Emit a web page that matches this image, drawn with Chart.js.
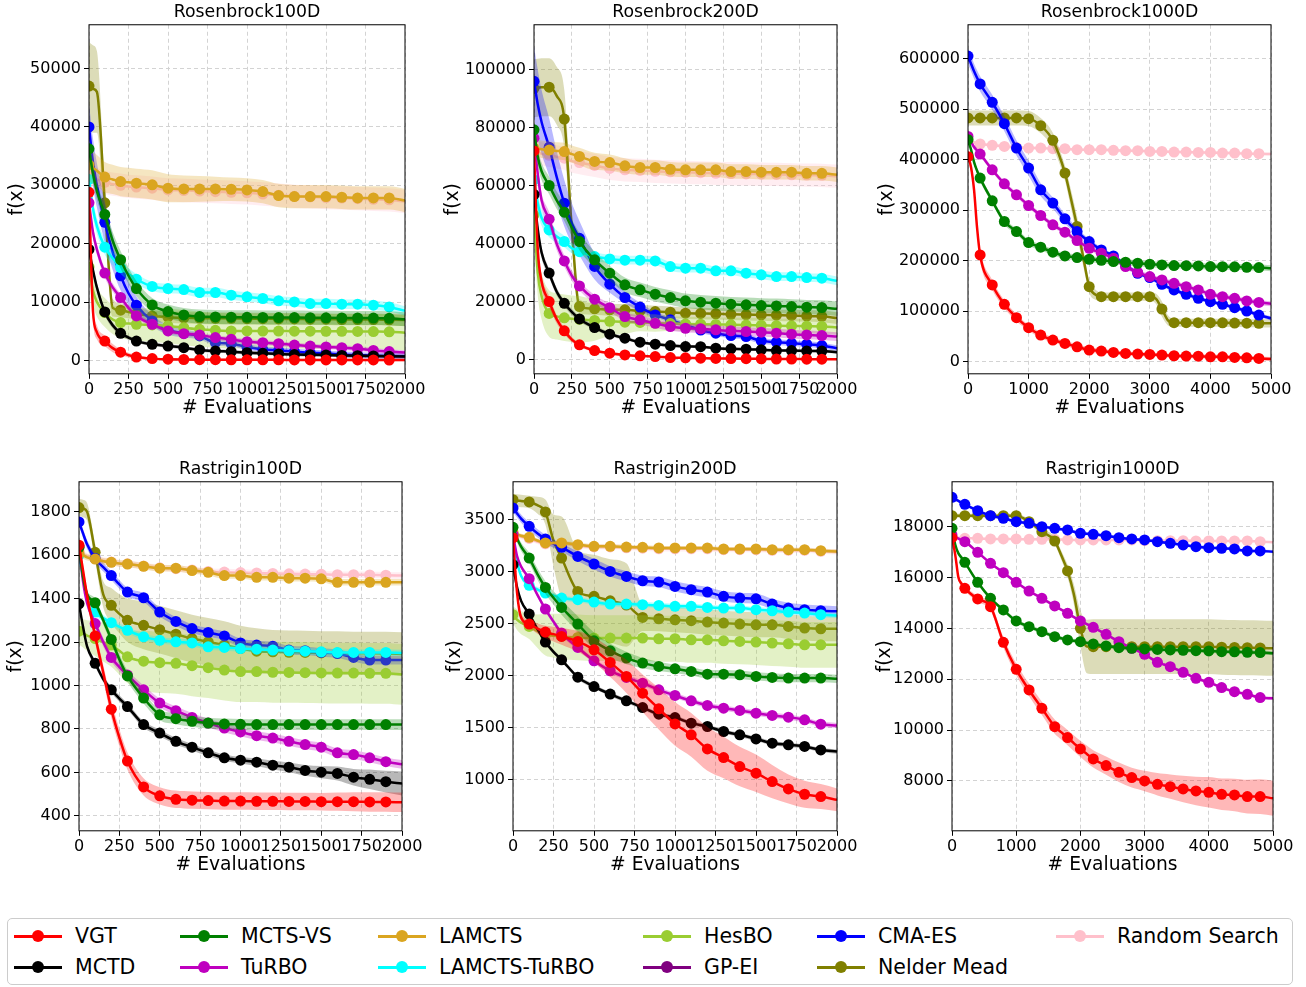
<!DOCTYPE html>
<html>
<head>
<meta charset="utf-8">
<script src="https://cdn.jsdelivr.net/npm/chart.js@4.4.1/dist/chart.umd.min.js"></script>
<style>
body { margin: 0; background: #fff; width: 1306px; height: 987px; position: relative; overflow: hidden; font-family: "DejaVu Sans", sans-serif; }
.panel { position: absolute; }
#legend { position: absolute; left: 7px; top: 918px; width: 1284px; height: 65px; border: 1px solid #cccccc; border-radius: 5px; }
.item { position: absolute; height: 26px; font-size: 20.5px; line-height: 26px; white-space: nowrap; color: #000; }
.item .ln { position: absolute; left: 0; top: 11.5px; width: 48px; height: 3px; }
.item .dot { position: absolute; left: 18px; top: 7px; width: 12px; height: 12px; border-radius: 50%; }
.item .tx { position: absolute; left: 61px; top: 0; }
</style>
</head>
<body>
<div id="legend"></div>
<script>
// methods, in legend order
const names = ['VGT', 'MCTD', 'MCTS-VS', 'TuRBO', 'LAMCTS', 'LAMCTS-TuRBO', 'HesBO', 'GP-EI', 'CMA-ES', 'Nelder Mead', 'Random Search'];
const keys = ['vgt', 'mctd', 'mctsvs', 'turbo', 'lamcts', 'lamctsturbo', 'hesbo', 'gpei', 'cmaes', 'nm', 'rs'];
const colors = ['#ff0000', '#000000', '#008000', '#bf00bf', '#daa520', '#00ffff', '#9acd32', '#800080', '#0000ff', '#808000', '#ffc0cb'];

// evaluation grids
const xs2000 = [0, 25, 50, 100, 150, 200, 250, 300, 400, 500, 600, 700, 800, 900, 1000, 1100, 1200, 1300, 1400, 1500, 1600, 1700, 1800, 1900, 2000];
const xs5000 = [0, 50, 100, 150, 200, 400, 600, 800, 1000, 1200, 1400, 1600, 1700, 1800, 1900, 2000, 2100, 2200, 2400, 2600, 2800, 3000, 3100, 3200, 3300, 3400, 3600, 3800, 4000, 4200, 4400, 4600, 4800, 5000];

// tick labels
const xTicks2000 = [0, 250, 500, 750, 1000, 1250, 1500, 1750, 2000];
const xTicks5000 = [0, 1000, 2000, 3000, 4000, 5000];
const yTicksRos100 = [0, 10000, 20000, 30000, 40000, 50000];
const yTicksRos200 = [0, 20000, 40000, 60000, 80000, 100000];
const yTicksRos1000 = [0, 100000, 200000, 300000, 400000, 500000, 600000];
const yTicksRas100 = [400, 600, 800, 1000, 1200, 1400, 1600, 1800];
const yTicksRas200 = [1000, 1500, 2000, 2500, 3000, 3500];
const yTicksRas1000 = [8000, 10000, 12000, 14000, 16000, 18000];

// ---- Rosenbrock100D ----
const ros100_vgt = [28800, 8500, 4800, 3300, 2100, 1400, 900, 570, 300, 200, 150, 120, 110, 100, 100, 90, 90, 80, 80, 80, 70, 70, 70, 60, 60];
const ros100_vgt_sd = [1500, 1500, 1200, 900, 700, 500, 400, 300, 200, 200, 200, 200, 200, 200, 200, 200, 200, 200, 200, 200, 200, 200, 200, 200, 200];
const ros100_mctd = [19000, 15500, 12500, 8300, 6000, 4640, 3900, 3300, 2750, 2460, 2180, 1780, 1600, 1490, 1320, 1200, 1100, 1000, 950, 900, 850, 800, 750, 700, 650];
const ros100_mctd_sd = [800, 800, 700, 600, 500, 400, 350, 300, 300, 300, 300, 300, 300, 300, 300, 300, 300, 300, 300, 300, 300, 300, 300, 300, 300];
const ros100_mctsvs = [36250, 32000, 29000, 25000, 20500, 17240, 14500, 12300, 9500, 8360, 7790, 7500, 7450, 7400, 7380, 7360, 7340, 7330, 7320, 7300, 7280, 7260, 7240, 7200, 7050];
const ros100_mctsvs_sd = [1500, 1500, 1500, 1500, 1500, 1500, 1400, 1300, 1200, 1200, 1200, 1200, 1200, 1200, 1200, 1200, 1200, 1200, 1200, 1200, 1200, 1200, 1200, 1200, 1200];
const ros100_turbo = [27000, 22000, 19000, 14950, 12500, 10770, 9000, 7620, 6190, 5040, 4580, 4350, 3900, 3600, 3200, 3030, 2860, 2630, 2460, 2290, 2180, 2000, 1700, 1500, 1350];
const ros100_turbo_sd = [1000, 1000, 900, 800, 700, 600, 500, 500, 400, 400, 400, 400, 400, 400, 400, 400, 400, 400, 400, 400, 400, 400, 400, 400, 400];
const ros100_lamcts = [33500, 33000, 32500, 31400, 31000, 30640, 30500, 30350, 30070, 29500, 29380, 29380, 29380, 29320, 29210, 28920, 28240, 28060, 28060, 28060, 27950, 27830, 27830, 27830, 27380];
const ros100_lamcts_sd = [2800, 2800, 2700, 2600, 2500, 2500, 2500, 2500, 2500, 2400, 2300, 2200, 2100, 2000, 2000, 2000, 2000, 2000, 2000, 2000, 2000, 2000, 2000, 2000, 2000];
const ros100_lamctsturbo = [31000, 26000, 23000, 19400, 17500, 15900, 14800, 13900, 12660, 12300, 12140, 11630, 11630, 11170, 10880, 10600, 10200, 10020, 9740, 9740, 9620, 9620, 9450, 9160, 8480];
const ros100_lamctsturbo_sd = [1500, 1500, 1400, 1300, 1200, 1100, 1000, 900, 800, 800, 800, 800, 800, 800, 800, 800, 800, 800, 800, 800, 800, 800, 800, 800, 800];
const ros100_hesbo = [16000, 12000, 10000, 8200, 7000, 6470, 6300, 6190, 6070, 5900, 5610, 5330, 5150, 5040, 5040, 5030, 5020, 5010, 5000, 4990, 4980, 4960, 4940, 4900, 4750];
const ros100_hesbo_sd = [2500, 2500, 2500, 2500, 2500, 2600, 2700, 2800, 2900, 3000, 3000, 3000, 3000, 3000, 3000, 3000, 3000, 3000, 3000, 3000, 3000, 3000, 3000, 3000, 3000];
const ros100_cmaes = [40000, 34000, 30000, 23650, 18500, 14500, 11500, 9450, 6760, 5210, 4640, 4180, 3040, 2860, 2300, 1900, 1700, 1500, 1300, 1200, 1000, 900, 800, 750, 700];
const ros100_cmaes_sd = [4000, 4000, 3800, 3500, 3000, 2500, 2000, 1500, 1000, 800, 700, 600, 500, 500, 500, 500, 500, 500, 500, 500, 500, 500, 500, 500, 500];
const ros100_nm = [47000, 46500, 46000, 27000, 9000, 8600, 8300, 8000, 7600, 7400, 7300, 7250, 7200, 7200, 7150, 7150, 7100, 7100, 7050, 7050, 7000, 7000, 7000, 6950, 6900];
const ros100_nm_sd = [7500, 7500, 7000, 4000, 1500, 1200, 1100, 1000, 1000, 1000, 1000, 1000, 1000, 1000, 1000, 1000, 1000, 1000, 1000, 1000, 1000, 1000, 1000, 1000, 1000];
const ros100_rs = [32000, 31500, 31000, 30500, 30200, 30000, 29800, 29700, 29500, 29200, 29100, 29000, 28900, 28800, 28700, 28500, 28300, 28100, 28000, 27900, 27800, 27700, 27600, 27500, 27200];
const ros100_rs_sd = [2000, 2000, 2000, 2000, 2000, 2000, 2000, 2000, 2000, 2000, 2000, 2000, 2000, 2000, 2000, 2000, 2000, 2000, 2000, 2000, 2000, 2000, 2000, 2000, 2000];

// ---- Rosenbrock200D ----
const ros200_vgt = [72000, 38000, 27000, 20100, 14000, 10000, 7000, 5170, 3220, 2300, 1720, 1380, 1150, 800, 700, 600, 500, 450, 400, 350, 300, 280, 250, 230, 200];
const ros200_vgt_sd = [3000, 3000, 2500, 2000, 1500, 1200, 900, 700, 500, 300, 300, 300, 300, 300, 300, 300, 300, 300, 300, 300, 300, 300, 300, 300, 300];
const ros200_mctd = [57000, 45000, 37000, 29900, 23500, 19500, 16500, 14100, 11150, 8850, 7470, 6090, 5400, 4940, 4600, 4550, 4020, 3800, 3700, 3450, 3220, 3200, 3100, 3050, 2600];
const ros200_mctd_sd = [2000, 2000, 1800, 1500, 1300, 1100, 1000, 900, 800, 700, 600, 500, 500, 500, 500, 500, 500, 500, 500, 500, 500, 500, 500, 500, 500];
const ros200_mctsvs = [79300, 70000, 65000, 60100, 55000, 50900, 45500, 40800, 34470, 29870, 25850, 24130, 22630, 21490, 20340, 19880, 19530, 19190, 18960, 18730, 18610, 18380, 18150, 18040, 17580];
const ros200_mctsvs_sd = [3000, 3000, 3000, 3000, 3000, 3000, 3000, 3000, 2800, 2600, 2500, 2500, 2500, 2500, 2500, 2500, 2500, 2500, 2500, 2500, 2500, 2500, 2500, 2500, 2500];
const ros200_turbo = [76400, 64000, 55000, 48500, 40000, 34100, 29000, 25500, 20900, 18000, 14940, 13800, 12600, 11500, 10900, 10700, 10340, 10000, 9770, 9540, 9200, 8850, 8600, 8390, 8040];
const ros200_turbo_sd = [2500, 2500, 2500, 2500, 2200, 2000, 1800, 1600, 1500, 1500, 1500, 1500, 1500, 1500, 1500, 1500, 1500, 1500, 1500, 1500, 1500, 1500, 1500, 1500, 1500];
const ros200_lamcts = [73000, 72800, 72600, 72300, 72000, 71800, 70900, 70100, 68400, 68000, 66900, 66300, 66300, 65700, 65500, 65500, 65500, 64900, 64900, 64700, 64700, 64700, 64300, 64300, 63800];
const ros200_lamcts_sd = [3000, 3000, 3000, 3000, 3000, 3000, 3000, 3000, 3000, 2800, 2600, 2500, 2500, 2500, 2500, 2500, 2500, 2500, 2500, 2500, 2500, 2500, 2500, 2500, 2500];
const ros200_lamctsturbo = [62000, 54000, 49000, 44800, 42500, 40800, 38500, 37300, 35600, 34800, 34350, 34350, 34100, 32170, 31600, 31600, 30680, 30680, 29870, 29300, 28700, 28700, 28380, 28150, 27230];
const ros200_lamctsturbo_sd = [3000, 3000, 2800, 2500, 2200, 2000, 1800, 1600, 1500, 1500, 1500, 1500, 1500, 1500, 1500, 1500, 1500, 1500, 1500, 1500, 1500, 1500, 1500, 1500, 1500];
const ros200_hesbo = [50000, 30000, 22000, 16000, 15000, 14500, 14200, 14000, 13600, 13300, 13000, 12900, 12700, 12500, 12400, 12300, 12200, 12100, 12000, 11900, 11800, 11700, 11600, 11500, 11200];
const ros200_hesbo_sd = [8000, 8000, 8000, 8000, 8000, 8000, 8000, 8000, 7000, 5000, 4000, 3000, 3000, 2500, 2500, 2500, 2500, 2500, 2500, 2500, 2500, 2500, 2500, 2500, 2500];
const ros200_cmaes = [96000, 88000, 82000, 73300, 63000, 54000, 47000, 41900, 32200, 26100, 21500, 18200, 15500, 13800, 12070, 10300, 9190, 8390, 8040, 6550, 6090, 5750, 5400, 4940, 4000];
const ros200_cmaes_sd = [12000, 12000, 11000, 10000, 9000, 8000, 7000, 6000, 4500, 3000, 2000, 1500, 1000, 1000, 1000, 1000, 1000, 1000, 1000, 1000, 1000, 1000, 1000, 1000, 1000];
const ros200_nm = [93600, 93800, 94000, 94000, 91000, 83000, 45000, 18400, 17580, 17240, 17240, 16890, 16660, 16430, 16090, 16000, 15900, 15700, 15600, 15500, 15400, 15300, 15100, 15000, 14400];
const ros200_nm_sd = [10000, 10000, 10000, 10000, 10000, 10000, 6000, 2500, 2000, 2000, 2000, 2000, 2000, 2000, 2000, 2000, 2000, 2000, 2000, 2000, 2000, 2000, 2000, 2000, 2000];
const ros200_rs = [72000, 71500, 71000, 70500, 70000, 69500, 68500, 68000, 67000, 66000, 65500, 65300, 65000, 64800, 64600, 64500, 64300, 64200, 64100, 64000, 63900, 63800, 63700, 63600, 63300];
const ros200_rs_sd = [4000, 4000, 4000, 4000, 4000, 4000, 4000, 4000, 4000, 4000, 4000, 4000, 4000, 4000, 4000, 4000, 4000, 4000, 4000, 4000, 4000, 4000, 4000, 4000, 4000];

// ---- Rosenbrock1000D ----
const ros1000_vgt = [406000, 385000, 340000, 265000, 211500, 152000, 113700, 87300, 67400, 52900, 43000, 36400, 33000, 29700, 26200, 23100, 22100, 21200, 18500, 16500, 15200, 14500, 13800, 13200, 12500, 11900, 11200, 11000, 9900, 9700, 8600, 7900, 6600, 5300];
const ros1000_vgt_sd = [8000, 10000, 12000, 12000, 12000, 10000, 8000, 7000, 6000, 6000, 5000, 5000, 5000, 5000, 5000, 5000, 5000, 5000, 4000, 4000, 4000, 4000, 4000, 4000, 4000, 4000, 4000, 4000, 4000, 4000, 4000, 4000, 4000, 4000];
const ros1000_mctsvs = [439500, 420000, 395000, 378000, 363500, 318600, 277600, 257800, 236000, 226700, 216800, 209500, 207800, 206200, 204500, 202900, 201900, 200900, 198300, 197000, 195000, 193000, 192300, 191700, 191000, 190400, 190200, 189700, 188400, 188200, 188000, 187100, 186400, 185100];
const ros1000_mctsvs_sd = [6000, 6000, 6000, 6000, 6000, 6000, 6000, 6000, 6000, 6000, 6000, 6000, 6000, 6000, 6000, 6000, 6000, 6000, 6000, 6000, 6000, 6000, 6000, 6000, 6000, 6000, 6000, 6000, 6000, 6000, 6000, 6000, 6000, 6000];
const ros1000_turbo = [446000, 435000, 425000, 418000, 411100, 380000, 352300, 330500, 309300, 289500, 271000, 256500, 248000, 240000, 232000, 224700, 219500, 214800, 204900, 188400, 177100, 168600, 165000, 162000, 158500, 155300, 148700, 142100, 133500, 128900, 125600, 120500, 117500, 115000];
const ros1000_turbo_sd = [5000, 5000, 5000, 5000, 5000, 5000, 5000, 5000, 5000, 5000, 5000, 5000, 5000, 5000, 5000, 5000, 5000, 5000, 5000, 5000, 5000, 5000, 5000, 5000, 5000, 5000, 5000, 5000, 5000, 5000, 5000, 5000, 5000, 5000];
const ros1000_cmaes = [605000, 590000, 575000, 562000, 549900, 513600, 471300, 423000, 383400, 340400, 314000, 282900, 270000, 257800, 247000, 238000, 229000, 221400, 209500, 191700, 175200, 166600, 160000, 153400, 147500, 142100, 133500, 125600, 119000, 113700, 107100, 100500, 92500, 85900];
const ros1000_cmaes_sd = [15000, 15000, 15000, 15000, 15000, 15000, 15000, 15000, 15000, 13000, 11000, 9000, 8000, 7000, 6000, 5000, 5000, 5000, 4000, 4000, 4000, 4000, 4000, 4000, 4000, 4000, 4000, 4000, 4000, 4000, 4000, 4000, 4000, 4000];
const ros1000_nm = [482500, 482500, 482500, 482500, 482500, 482500, 482500, 482500, 481200, 467300, 438200, 373500, 322000, 267700, 208000, 148700, 133000, 128900, 128900, 128900, 128900, 128900, 125000, 104400, 82000, 77300, 77300, 77300, 77300, 77000, 76700, 76400, 76000, 76000];
const ros1000_nm_sd = [15000, 15000, 15000, 15000, 15000, 15000, 15000, 15000, 15000, 15000, 15000, 15000, 18000, 20000, 18000, 12000, 10000, 8000, 8000, 8000, 8000, 8000, 10000, 15000, 10000, 8000, 8000, 8000, 8000, 8000, 8000, 8000, 8000, 8000];
const ros1000_rs = [440000, 436000, 434000, 432500, 431000, 428300, 426300, 424300, 423000, 423000, 421700, 421700, 420700, 419700, 419700, 419700, 419700, 419700, 418400, 417800, 417800, 416400, 416400, 416400, 415700, 415100, 415100, 414400, 414400, 413100, 413100, 411800, 411800, 411100];
const ros1000_rs_sd = [3000, 3000, 3000, 3000, 3000, 3000, 3000, 3000, 3000, 3000, 3000, 3000, 3000, 3000, 3000, 3000, 3000, 3000, 3000, 3000, 3000, 3000, 3000, 3000, 3000, 3000, 3000, 3000, 3000, 3000, 3000, 3000, 3000, 3000];

// ---- Rastrigin100D ----
const ras100_vgt = [1646, 1530, 1414, 1228, 1060, 891, 760, 652, 533, 492, 476, 472, 470, 468, 468, 467, 467, 466, 466, 465, 465, 465, 464, 464, 462];
const ras100_vgt_sd = [30, 30, 30, 30, 35, 40, 40, 40, 40, 40, 40, 40, 40, 40, 40, 40, 40, 40, 40, 40, 42, 44, 45, 45, 45];
const ras100_mctd = [1376, 1270, 1180, 1102, 1030, 980, 940, 903, 820, 781, 743, 716, 690, 667, 656, 647, 633, 624, 609, 601, 595, 578, 568, 557, 549];
const ras100_mctd_sd = [15, 15, 15, 15, 15, 15, 15, 15, 15, 15, 15, 15, 15, 15, 15, 18, 20, 22, 25, 28, 32, 38, 45, 50, 55];
const ras100_mctsvs = [1636, 1500, 1420, 1381, 1300, 1212, 1120, 1044, 942, 865, 847, 835, 827, 823, 821, 820, 820, 820, 820, 820, 820, 820, 820, 820, 820];
const ras100_mctsvs_sd = [20, 20, 20, 20, 20, 22, 24, 25, 25, 25, 25, 25, 25, 25, 25, 25, 25, 25, 25, 25, 25, 25, 25, 25, 25];
const ras100_turbo = [1640, 1480, 1380, 1285, 1200, 1129, 1085, 1048, 980, 919, 884, 853, 827, 804, 786, 769, 758, 743, 728, 716, 690, 682, 667, 649, 637];
const ras100_turbo_sd = [20, 20, 20, 20, 20, 20, 20, 20, 20, 20, 20, 20, 20, 20, 20, 20, 20, 20, 20, 20, 20, 20, 20, 20, 20];
const ras100_lamcts = [1610, 1600, 1590, 1582, 1572, 1567, 1562, 1559, 1549, 1540, 1540, 1529, 1521, 1506, 1506, 1498, 1498, 1494, 1494, 1491, 1475, 1475, 1475, 1475, 1475];
const ras100_lamcts_sd = [15, 15, 15, 15, 15, 15, 15, 15, 15, 15, 15, 15, 15, 15, 15, 15, 15, 15, 15, 15, 15, 15, 15, 15, 15];
const ras100_lamctsturbo = [1600, 1500, 1420, 1338, 1310, 1289, 1270, 1254, 1224, 1208, 1201, 1196, 1178, 1175, 1170, 1167, 1163, 1160, 1158, 1155, 1152, 1152, 1152, 1152, 1150];
const ras100_lamctsturbo_sd = [15, 15, 15, 15, 15, 15, 15, 15, 15, 15, 15, 15, 15, 15, 15, 15, 15, 15, 15, 15, 15, 15, 15, 15, 15];
const ras100_hesbo = [1250, 1240, 1230, 1216, 1200, 1186, 1160, 1132, 1112, 1105, 1102, 1091, 1082, 1071, 1064, 1064, 1061, 1060, 1059, 1058, 1057, 1057, 1056, 1056, 1051];
const ras100_hesbo_sd = [60, 65, 70, 80, 90, 100, 110, 120, 140, 140, 140, 140, 140, 140, 140, 140, 140, 140, 140, 140, 140, 140, 140, 140, 140];
const ras100_cmaes = [1753, 1700, 1650, 1585, 1545, 1506, 1465, 1430, 1404, 1338, 1295, 1262, 1244, 1228, 1196, 1186, 1181, 1163, 1160, 1152, 1147, 1129, 1117, 1117, 1117];
const ras100_cmaes_sd = [20, 20, 20, 20, 20, 20, 20, 20, 20, 20, 20, 20, 20, 20, 20, 20, 20, 20, 20, 20, 20, 20, 20, 20, 20];
const ras100_nm = [1819, 1815, 1800, 1613, 1420, 1369, 1330, 1300, 1277, 1257, 1236, 1216, 1201, 1186, 1170, 1158, 1155, 1153, 1152, 1150, 1150, 1148, 1148, 1147, 1145];
const ras100_nm_sd = [40, 40, 40, 40, 60, 80, 90, 100, 110, 110, 110, 110, 110, 110, 105, 105, 100, 100, 100, 100, 100, 100, 100, 100, 100];
const ras100_rs = [1620, 1605, 1595, 1585, 1575, 1568, 1563, 1560, 1550, 1542, 1538, 1532, 1525, 1522, 1520, 1518, 1516, 1514, 1513, 1512, 1510, 1510, 1509, 1508, 1506];
const ras100_rs_sd = [15, 15, 15, 15, 15, 15, 15, 15, 15, 15, 15, 15, 15, 15, 15, 15, 15, 15, 15, 15, 15, 15, 15, 15, 15];

// ---- Rastrigin200D ----
const ras200_vgt = [3324, 2800, 2560, 2497, 2455, 2420, 2400, 2378, 2330, 2250, 2128, 1994, 1833, 1683, 1538, 1433, 1298, 1215, 1128, 1064, 984, 913, 862, 840, 808];
const ras200_vgt_sd = [30, 40, 40, 40, 50, 60, 70, 80, 100, 120, 140, 160, 180, 200, 210, 210, 210, 200, 190, 180, 160, 140, 130, 120, 110];
const ras200_mctd = [3067, 2850, 2720, 2593, 2450, 2324, 2230, 2154, 1987, 1897, 1824, 1760, 1695, 1631, 1599, 1545, 1513, 1465, 1433, 1394, 1353, 1337, 1321, 1288, 1272];
const ras200_mctd_sd = [20, 20, 20, 20, 20, 20, 20, 20, 20, 20, 20, 20, 20, 20, 20, 20, 20, 20, 20, 20, 20, 20, 20, 20, 20];
const ras200_mctsvs = [3426, 3320, 3240, 3131, 2980, 2849, 2750, 2657, 2497, 2336, 2240, 2170, 2122, 2090, 2067, 2042, 2016, 2016, 2010, 1994, 1984, 1978, 1978, 1978, 1971];
const ras200_mctsvs_sd = [40, 40, 40, 50, 55, 60, 65, 70, 75, 80, 70, 60, 50, 45, 40, 40, 40, 40, 40, 40, 40, 40, 40, 40, 40];
const ras200_turbo = [3356, 3150, 3050, 2933, 2780, 2641, 2520, 2410, 2272, 2144, 2048, 1984, 1929, 1865, 1811, 1760, 1715, 1689, 1667, 1641, 1619, 1603, 1577, 1535, 1522];
const ras200_turbo_sd = [25, 25, 25, 25, 25, 25, 25, 25, 25, 25, 25, 25, 25, 25, 25, 25, 25, 25, 25, 25, 25, 25, 25, 25, 25];
const ras200_lamcts = [3380, 3360, 3345, 3330, 3300, 3276, 3276, 3276, 3260, 3244, 3244, 3237, 3234, 3228, 3228, 3228, 3228, 3218, 3218, 3218, 3211, 3211, 3211, 3202, 3195];
const ras200_lamcts_sd = [20, 20, 20, 20, 20, 20, 20, 20, 20, 20, 20, 20, 20, 20, 20, 20, 20, 20, 20, 20, 20, 20, 20, 20, 20];
const ras200_lamctsturbo = [3350, 3100, 2960, 2869, 2830, 2795, 2770, 2747, 2731, 2708, 2689, 2689, 2683, 2676, 2667, 2667, 2657, 2651, 2651, 2635, 2625, 2612, 2603, 2587, 2580];
const ras200_lamctsturbo_sd = [25, 25, 25, 25, 25, 25, 25, 25, 25, 25, 25, 25, 25, 25, 25, 25, 25, 25, 25, 25, 25, 25, 25, 25, 25];
const ras200_hesbo = [2587, 2540, 2510, 2474, 2430, 2394, 2385, 2378, 2369, 2362, 2362, 2362, 2362, 2356, 2356, 2346, 2346, 2336, 2330, 2324, 2314, 2308, 2298, 2298, 2298];
const ras200_hesbo_sd = [80, 100, 110, 120, 160, 200, 210, 220, 220, 220, 220, 220, 220, 220, 220, 220, 220, 220, 220, 220, 220, 220, 220, 220, 220];
const ras200_cmaes = [3612, 3560, 3510, 3436, 3370, 3314, 3270, 3234, 3147, 3074, 3003, 2955, 2913, 2901, 2859, 2827, 2804, 2763, 2747, 2740, 2689, 2651, 2635, 2625, 2619];
const ras200_cmaes_sd = [40, 40, 40, 40, 40, 40, 40, 40, 45, 50, 50, 50, 50, 50, 50, 50, 50, 50, 50, 50, 50, 50, 50, 50, 50];
const ras200_nm = [3692, 3685, 3680, 3670, 3640, 3574, 3300, 3131, 2811, 2763, 2720, 2680, 2561, 2548, 2538, 2529, 2516, 2506, 2497, 2490, 2490, 2474, 2458, 2452, 2452];
const ras200_nm_sd = [60, 60, 60, 60, 80, 120, 250, 400, 400, 400, 400, 400, 130, 120, 120, 120, 120, 120, 120, 120, 120, 120, 120, 120, 120];
const ras200_rs = [3370, 3350, 3335, 3320, 3290, 3268, 3268, 3268, 3252, 3238, 3238, 3230, 3226, 3220, 3220, 3220, 3220, 3212, 3212, 3212, 3205, 3205, 3205, 3196, 3190];
const ras200_rs_sd = [25, 25, 25, 25, 25, 25, 25, 25, 25, 25, 25, 25, 25, 25, 25, 25, 25, 25, 25, 25, 25, 25, 25, 25, 25];

// ---- Rastrigin1000D ----
const ras1000_vgt = [17567, 16900, 16000, 15750, 15575, 15156, 14855, 13452, 12390, 11578, 10857, 10136, 9920, 9704, 9480, 9258, 9060, 8865, 8603, 8341, 8131, 8000, 7935, 7869, 7820, 7777, 7685, 7607, 7554, 7476, 7450, 7384, 7384, 7318];
const ras1000_vgt_sd = [60, 80, 100, 100, 100, 120, 150, 200, 230, 250, 260, 280, 290, 300, 310, 320, 330, 340, 360, 380, 390, 400, 420, 440, 460, 480, 520, 560, 600, 620, 640, 660, 680, 690];
const ras1000_mctsvs = [17934, 17300, 16950, 16780, 16597, 15811, 15182, 14723, 14291, 14068, 13871, 13675, 13610, 13544, 13510, 13478, 13430, 13387, 13308, 13242, 13216, 13190, 13180, 13170, 13160, 13151, 13140, 13124, 13111, 13085, 13080, 13059, 13050, 13020];
const ras1000_mctsvs_sd = [80, 80, 80, 80, 80, 80, 80, 80, 80, 80, 80, 80, 80, 80, 80, 80, 80, 80, 80, 80, 80, 80, 80, 80, 80, 80, 80, 80, 80, 80, 80, 80, 80, 80];
const ras1000_turbo = [17672, 17600, 17530, 17470, 17410, 16991, 16558, 16191, 15811, 15470, 15182, 14881, 14740, 14592, 14440, 14291, 14170, 14042, 13767, 13478, 13216, 12980, 12820, 12666, 12580, 12495, 12273, 12037, 11879, 11670, 11512, 11408, 11277, 11250];
const ras1000_turbo_sd = [60, 60, 60, 60, 60, 60, 60, 60, 60, 60, 60, 60, 60, 60, 60, 60, 60, 60, 60, 60, 60, 60, 60, 60, 60, 60, 60, 60, 60, 60, 60, 60, 60, 60];
const ras1000_cmaes = [19153, 19080, 19010, 18940, 18878, 18629, 18432, 18328, 18197, 18131, 18000, 17934, 17900, 17869, 17800, 17738, 17718, 17698, 17646, 17567, 17515, 17476, 17443, 17410, 17378, 17345, 17279, 17214, 17174, 17148, 17122, 17043, 17043, 17017];
const ras1000_cmaes_sd = [60, 60, 60, 60, 60, 60, 60, 60, 60, 60, 60, 60, 60, 60, 60, 60, 60, 60, 60, 60, 60, 60, 60, 60, 60, 60, 60, 60, 60, 60, 60, 60, 60, 60];
const ras1000_nm = [18430, 18430, 18430, 18430, 18430, 18430, 18430, 18430, 18430, 18197, 17803, 17436, 16886, 16257, 15320, 14003, 13290, 13282, 13282, 13282, 13282, 13282, 13282, 13282, 13282, 13282, 13282, 13282, 13282, 13260, 13250, 13240, 13230, 13216];
const ras1000_nm_sd = [80, 80, 80, 80, 80, 80, 80, 80, 80, 100, 120, 150, 180, 250, 400, 700, 1050, 1080, 1080, 1080, 1080, 1080, 1080, 1080, 1080, 1080, 1080, 1080, 1080, 1080, 1080, 1080, 1080, 1080];
const ras1000_rs = [17600, 17580, 17560, 17550, 17541, 17541, 17515, 17515, 17515, 17502, 17502, 17502, 17490, 17476, 17476, 17476, 17476, 17476, 17476, 17476, 17476, 17450, 17450, 17450, 17450, 17450, 17450, 17437, 17437, 17437, 17437, 17437, 17410, 17384];
const ras1000_rs_sd = [40, 40, 40, 40, 40, 40, 40, 40, 40, 40, 40, 40, 40, 40, 40, 40, 40, 40, 40, 40, 40, 40, 40, 40, 40, 40, 40, 40, 40, 40, 40, 40, 40, 40];

const titles = ['Rosenbrock100D', 'Rosenbrock200D', 'Rosenbrock1000D', 'Rastrigin100D', 'Rastrigin200D', 'Rastrigin1000D'];
// visible y range of each panel
const yRanges = [[-2300, 57500], [-4800, 115500], [-23800, 667000], [331, 1938], [511, 3864], [6040, 19765]];
const yTicks = [yTicksRos100, yTicksRos200, yTicksRos1000, yTicksRas100, yTicksRas200, yTicksRas1000];

const plots = [
  {xs: xs2000, xMax: 2000, xTicks: xTicks2000, mark: 100, mean: {vgt: ros100_vgt, mctd: ros100_mctd, mctsvs: ros100_mctsvs, turbo: ros100_turbo, lamcts: ros100_lamcts, lamctsturbo: ros100_lamctsturbo, hesbo: ros100_hesbo, cmaes: ros100_cmaes, nm: ros100_nm, rs: ros100_rs},
   sd: {vgt: ros100_vgt_sd, mctd: ros100_mctd_sd, mctsvs: ros100_mctsvs_sd, turbo: ros100_turbo_sd, lamcts: ros100_lamcts_sd, lamctsturbo: ros100_lamctsturbo_sd, hesbo: ros100_hesbo_sd, cmaes: ros100_cmaes_sd, nm: ros100_nm_sd, rs: ros100_rs_sd}},
  {xs: xs2000, xMax: 2000, xTicks: xTicks2000, mark: 100, mean: {vgt: ros200_vgt, mctd: ros200_mctd, mctsvs: ros200_mctsvs, turbo: ros200_turbo, lamcts: ros200_lamcts, lamctsturbo: ros200_lamctsturbo, hesbo: ros200_hesbo, cmaes: ros200_cmaes, nm: ros200_nm, rs: ros200_rs},
   sd: {vgt: ros200_vgt_sd, mctd: ros200_mctd_sd, mctsvs: ros200_mctsvs_sd, turbo: ros200_turbo_sd, lamcts: ros200_lamcts_sd, lamctsturbo: ros200_lamctsturbo_sd, hesbo: ros200_hesbo_sd, cmaes: ros200_cmaes_sd, nm: ros200_nm_sd, rs: ros200_rs_sd}},
  {xs: xs5000, xMax: 5000, xTicks: xTicks5000, mark: 200, mean: {vgt: ros1000_vgt, mctsvs: ros1000_mctsvs, turbo: ros1000_turbo, cmaes: ros1000_cmaes, nm: ros1000_nm, rs: ros1000_rs},
   sd: {vgt: ros1000_vgt_sd, mctsvs: ros1000_mctsvs_sd, turbo: ros1000_turbo_sd, cmaes: ros1000_cmaes_sd, nm: ros1000_nm_sd, rs: ros1000_rs_sd}},
  {xs: xs2000, xMax: 2000, xTicks: xTicks2000, mark: 100, mean: {vgt: ras100_vgt, mctd: ras100_mctd, mctsvs: ras100_mctsvs, turbo: ras100_turbo, lamcts: ras100_lamcts, lamctsturbo: ras100_lamctsturbo, hesbo: ras100_hesbo, cmaes: ras100_cmaes, nm: ras100_nm, rs: ras100_rs},
   sd: {vgt: ras100_vgt_sd, mctd: ras100_mctd_sd, mctsvs: ras100_mctsvs_sd, turbo: ras100_turbo_sd, lamcts: ras100_lamcts_sd, lamctsturbo: ras100_lamctsturbo_sd, hesbo: ras100_hesbo_sd, cmaes: ras100_cmaes_sd, nm: ras100_nm_sd, rs: ras100_rs_sd}},
  {xs: xs2000, xMax: 2000, xTicks: xTicks2000, mark: 100, mean: {vgt: ras200_vgt, mctd: ras200_mctd, mctsvs: ras200_mctsvs, turbo: ras200_turbo, lamcts: ras200_lamcts, lamctsturbo: ras200_lamctsturbo, hesbo: ras200_hesbo, cmaes: ras200_cmaes, nm: ras200_nm, rs: ras200_rs},
   sd: {vgt: ras200_vgt_sd, mctd: ras200_mctd_sd, mctsvs: ras200_mctsvs_sd, turbo: ras200_turbo_sd, lamcts: ras200_lamcts_sd, lamctsturbo: ras200_lamctsturbo_sd, hesbo: ras200_hesbo_sd, cmaes: ras200_cmaes_sd, nm: ras200_nm_sd, rs: ras200_rs_sd}},
  {xs: xs5000, xMax: 5000, xTicks: xTicks5000, mark: 200, mean: {vgt: ras1000_vgt, mctsvs: ras1000_mctsvs, turbo: ras1000_turbo, cmaes: ras1000_cmaes, nm: ras1000_nm, rs: ras1000_rs},
   sd: {vgt: ras1000_vgt_sd, mctsvs: ras1000_mctsvs_sd, turbo: ras1000_turbo_sd, cmaes: ras1000_cmaes_sd, nm: ras1000_nm_sd, rs: ras1000_rs_sd}}
];

// page layout: div left, div top, plot width, plot height, y axis width
const layout = [
  [6, 2, 316, 349, 83],
  [442, 2, 303, 349, 92],
  [876, 2, 303, 349, 92],
  [5, 459, 323, 349, 74],
  [444, 459, 324, 349, 69],
  [874, 459, 321, 349, 78]
];
const TITLE_H = 17.3 * 1.2 + 2;
const X_H = 45.2;
const RIGHT_PAD = 25;

Chart.defaults.font.family = 'DejaVu Sans';
Chart.defaults.color = '#000';

function rgba(hex, a) {
  const n = parseInt(hex.slice(1), 16);
  return 'rgba(' + (n >> 16) + ',' + ((n >> 8) & 255) + ',' + (n & 255) + ',' + a + ')';
}

const frame = {
  id: 'frame',
  afterDatasetsDraw(chart) {
    const a = chart.chartArea, ctx = chart.ctx;
    ctx.save();
    ctx.strokeStyle = '#000';
    ctx.lineWidth = 1;
    ctx.strokeRect(a.left, a.top, a.right - a.left, a.bottom - a.top);
    ctx.restore();
  }
};

plots.forEach((p, k) => {
  const [left, top, pw, ph, yW] = layout[k];
  const div = document.createElement('div');
  div.className = 'panel';
  div.style.left = left + 'px';
  div.style.top = top + 'px';
  div.style.width = (yW + pw + RIGHT_PAD) + 'px';
  div.style.height = (TITLE_H + ph + X_H) + 'px';
  const cv = document.createElement('canvas');
  div.appendChild(cv);
  document.body.appendChild(div);

  const ds = [];
  keys.forEach((key, i) => {
    const m = p.mean[key];
    if (!m) return;
    const sd = p.sd[key];
    ds.push({
      label: names[i],
      data: p.xs.map((x, j) => ({x: x, y: m[j]})),
      borderColor: colors[i],
      backgroundColor: colors[i],
      pointBackgroundColor: colors[i],
      borderWidth: 2.5,
      pointBorderWidth: 0,
      pointRadius: c => (c.raw && c.raw.x % p.mark === 0 && c.raw.x < p.xMax) ? 5.5 : 0,
      fill: false,
      cubicInterpolationMode: 'monotone',
      clip: 0
    });
    if (sd) {
      ds.push({
        data: p.xs.map((x, j) => ({x: x, y: m[j] + sd[j]})),
        borderWidth: 0, pointRadius: 0, fill: '+1',
        backgroundColor: rgba(colors[i], 0.28),
        cubicInterpolationMode: 'monotone', clip: 0
      });
      ds.push({
        data: p.xs.map((x, j) => ({x: x, y: m[j] - sd[j]})),
        borderWidth: 0, pointRadius: 0, fill: false,
        cubicInterpolationMode: 'monotone', clip: 0
      });
    }
  });

  const yr = yRanges[k];
  const yt = yTicks[k];
  new Chart(cv, {
    type: 'line',
    data: {datasets: ds},
    plugins: [frame],
    options: {
      responsive: true,
      maintainAspectRatio: false,
      animation: false,
      events: [],
      layout: {padding: {left: 0, top: 0, right: RIGHT_PAD, bottom: 0}},
      plugins: {
        legend: {display: false},
        tooltip: {enabled: false},
        title: {display: true, text: titles[k], fullSize: false, color: '#000',
          font: {size: 17.3, weight: 'normal', lineHeight: 1.2}, padding: {top: 0, bottom: 2}}
      },
      scales: {
        x: {
          type: 'linear', min: 0, max: p.xMax,
          afterBuildTicks: s => { s.ticks = p.xTicks.map(v => ({value: v})); },
          afterFit: s => { s.height = X_H; s.paddingLeft = 0; s.paddingRight = 0; },
          ticks: {autoSkip: false, maxRotation: 0, minRotation: 0,
            padding: 1, color: '#000', font: {size: 16}, callback: v => String(v)},
          grid: {color: '#d3d3d3', lineWidth: 1, tickLength: 5, tickColor: '#000', tickWidth: 1},
          border: {display: false, dash: [4, 3]},
          title: {display: true, text: '# Evaluations', color: '#000', font: {size: 18.7, lineHeight: 1.2}, padding: 0}
        },
        y: {
          type: 'linear', min: yr[0], max: yr[1],
          afterBuildTicks: s => { s.ticks = yt.map(v => ({value: v})); },
          afterFit: s => { s.width = yW; s.paddingTop = 0; s.paddingBottom = 0; },
          ticks: {autoSkip: false, padding: 3, color: '#000', font: {size: 16}, callback: v => String(v)},
          grid: {color: '#d3d3d3', lineWidth: 1, tickLength: 5, tickColor: '#000', tickWidth: 1},
          border: {display: false, dash: [4, 3]},
          title: {display: true, text: 'f(x)', color: '#000', font: {size: 18.7, lineHeight: 1.2}, padding: 0}
        }
      }
    }
  });
});

// legend (2 rows, column-major like the figure)
const legCols = [14, 180, 378, 643, 817, 1056];
const legRows = [936, 967];
const leg = document.getElementById('legend');
names.forEach((n, i) => {
  const el = document.createElement('div');
  el.className = 'item';
  el.style.left = (legCols[Math.floor(i / 2)] - 8) + 'px';
  el.style.top = (legRows[i % 2] - 918 - 14) + 'px';
  el.innerHTML = '<span class="ln" style="background:' + colors[i] + '"></span><span class="dot" style="background:' + colors[i] + '"></span><span class="tx">' + n + '</span>';
  leg.appendChild(el);
});
</script>
</body>
</html>
